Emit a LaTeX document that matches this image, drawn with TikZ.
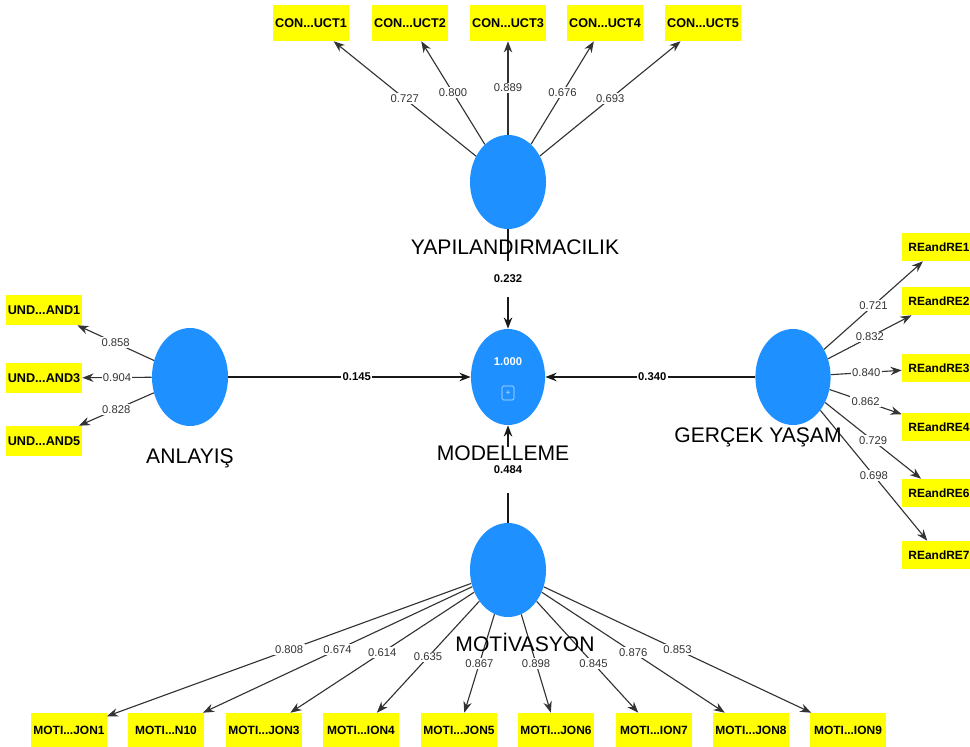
\documentclass[tikz,border=0pt]{standalone}
\usepackage{fontspec}
\setmainfont{Liberation Sans}
\usetikzlibrary{shapes.geometric,arrows.meta}
\definecolor{lvblue}{RGB}{30,144,255}
\definecolor{mvyellow}{RGB}{255,255,0}

\begin{document}
\begin{tikzpicture}[x=0.025cm,y=-0.025cm,>={Stealth[length=8pt,width=6pt]},line join=round,
	lv/.style={ellipse,fill=lvblue,minimum width=1.9cm,minimum height=2.35cm,inner sep=0pt},
	mv/.style={fill=mvyellow,minimum width=1.92cm,minimum height=0.9cm,inner sep=1pt,font=\fontsize{9}{10}\selectfont\bfseries},
	lvname/.style={font=\fontsize{15}{17}\selectfont},
	load/.style={fill=white,inner sep=1pt,text=black!80,font=\fontsize{8}{9}\selectfont},
	coef/.style={fill=white,inner sep=1pt,font=\fontsize{8}{9}\selectfont\bfseries},
	ldline/.style={->,draw=black!80,line width=0.8pt},
	cfline/.style={->,draw=black!90,line width=1.6pt}]
	\useasboundingbox (0,0) rectangle (970,747);
	\clip (0,0) rectangle (970,747);
	% latent variables
	\node[lv] (yap) at (508,182) {};
	\node[lv,minimum width=1.85cm,minimum height=2.4cm] (mod) at (508,377) {};
	\node[lv] (mot) at (508,570) {};
	\node[lv,minimum height=2.45cm] (anl) at (190,377) {};
	\node[lv,minimum width=1.88cm,minimum height=2.4cm] (ger) at (793,377) {};
	\node[text=white,font=\fontsize{8}{9}\selectfont\bfseries] (modval) at (508,362) {1.000};
	\node[draw=white!75!lvblue,rounded corners=1pt,minimum width=0.3cm,minimum height=0.35cm,inner sep=0pt,text=white!75!lvblue,font=\fontsize{6}{6}\selectfont] (modicon) at (508,393) {+};
	% indicators
	\foreach \i/\x in {1/311,2/410,3/508,4/605,5/703}
		\node[mv] (con\i) at (\x,23) {CON...UCT\i};
	\foreach \i/\y in {1/310,3/378,5/441}
		\node[mv,minimum width=1.9cm,minimum height=0.75cm] (und\i) at (44,\y) {UND...AND\i};
	\foreach \i/\y in {1/247,2/301,3/368,4/427,6/493,7/555}
		\node[mv,minimum width=1.85cm,minimum height=0.7cm,font=\fontsize{8.5}{10}\selectfont\bfseries] (rea\i) at (939,\y) {REandRE\i};
	\foreach \i/\x/\t in {1/69/JON1,2/166/N10,3/264/JON3,4/361/ION4,5/459/JON5,6/556/JON6,7/654/ION7,8/751/JON8,9/848/ION9}
		\node[mv,minimum width=1.88cm,minimum height=0.85cm,font=\fontsize{8.5}{10}\selectfont\bfseries] (moti\i) at (\x,730) {MOTI...\t};
	% outer loadings
	\foreach \i/\v in {1/0.727,2/0.800,3/0.889,4/0.676,5/0.693}
		\draw[ldline] (yap) -- node[load]{\v} (con\i);
	\foreach \i/\v in {1/0.858,3/0.904,5/0.828}
		\draw[ldline] (anl) -- node[load]{\v} (und\i);
	\foreach \i/\v in {1/0.721,2/0.832,3/0.840,4/0.862,6/0.729,7/0.698}
		\draw[ldline] (ger) -- node[load]{\v} (rea\i);
	\foreach \i/\v/\p in {1/0.808/0.5,2/0.674/0.5,3/0.614/0.5,4/0.635/0.5,5/0.867/0.5,6/0.898/0.5,7/0.845/0.56,8/0.876/0.5,9/0.853/0.5}
		\draw[ldline] (mot) -- node[load,pos=\p]{\v} (moti\i);
	% path coefficients
	\draw[cfline] (anl) -- node[coef,pos=0.53]{0.145} (mod);
	\draw[cfline] (ger) -- node[coef,pos=0.49]{0.340} (mod);
	\draw[cfline] (yap) -- node[coef,pos=0.5,minimum height=0.9cm]{0.232} (mod);
	\draw[cfline] (mot) -- node[coef,pos=0.54,minimum height=1.15cm]{0.484} (mod);
	% names
	\node[lvname] (yapname) at (515,247) {YAPILANDIRMACILIK};
	\node[lvname] (modname) at (503,453) {MODELLEME};
	\node[lvname] (motname) at (525,642) {MOTİVASYON};
	\node[lvname] (anlname) at (190,458) {ANLAYIŞ};
	\node[lvname] (gername) at (758,437) {GERÇEK YAŞAM};
\end{tikzpicture}
\end{document}
